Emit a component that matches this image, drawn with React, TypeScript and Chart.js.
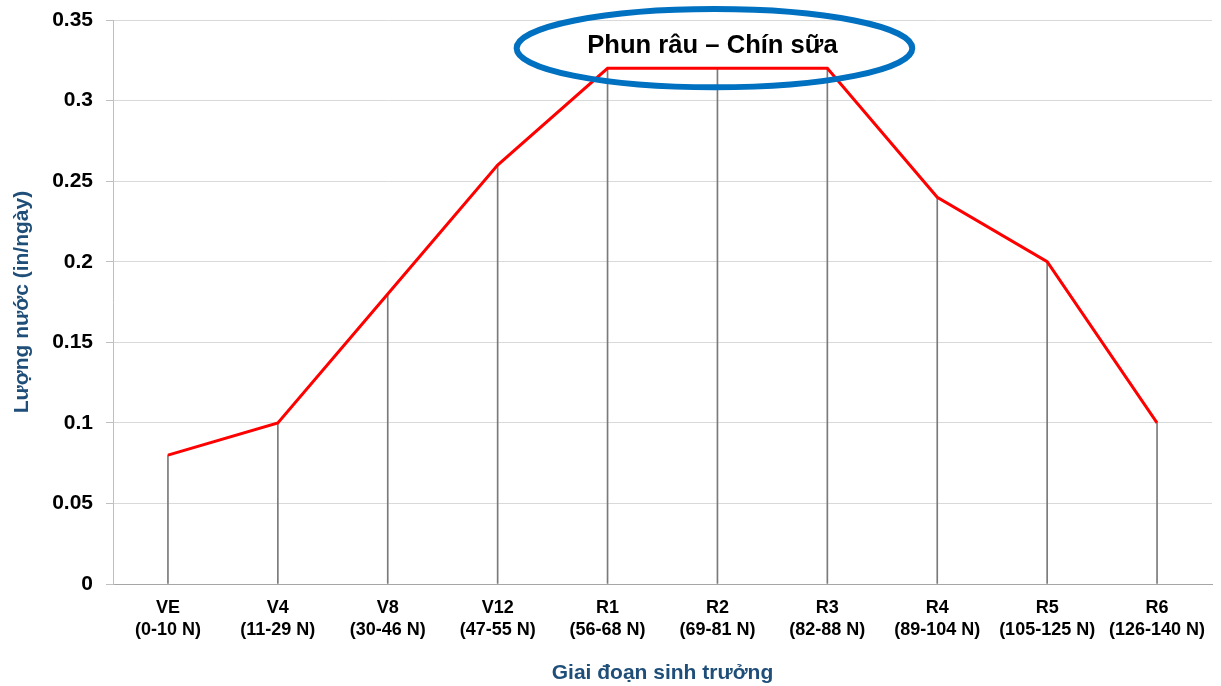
import React, { useEffect, useRef } from "react";
import { Chart, registerables } from "chart.js";

Chart.register(...registerables);

const STAGES = ["VE", "V4", "V8", "V12", "R1", "R2", "R3", "R4", "R5", "R6"];
const DAYS = [
  "(0-10 N)",
  "(11-29 N)",
  "(30-46 N)",
  "(47-55 N)",
  "(56-68 N)",
  "(69-81 N)",
  "(82-88 N)",
  "(89-104 N)",
  "(105-125 N)",
  "(126-140 N)",
];
const WATER_USE = [0.08, 0.1, 0.18, 0.26, 0.32, 0.32, 0.32, 0.24, 0.2, 0.1];
const Y_MIN = 0;
const Y_MAX = 0.35;
const Y_STEP = 0.05;
const Y_TITLE = "Lượng nước (in/ngày)";
const X_TITLE = "Giai đoạn sinh trưởng";
const NOTE_TEXT = "Phun râu – Chín sữa";
// annotation placement in scale units
const NOTE_FROM = 4; // R1
const NOTE_TO = 6; // R3
const NOTE_Y = 0.3325;

const FONT = "'Liberation Sans', Arial, Helvetica, sans-serif";
const BLUE = "#1F4E79";

const ellipsePlugin = {
  id: "noteEllipse",
  afterDatasetsDraw(chart: any) {
    const xs = chart.scales.x;
    const ys = chart.scales.y;
    const ctx = chart.ctx;
    const x1 = xs.getPixelForValue(NOTE_FROM);
    const x2 = xs.getPixelForValue(NOTE_TO);
    const step = xs.getPixelForValue(1) - xs.getPixelForValue(0);
    const cx = (x1 + x2) / 2 - 3;
    const cy = ys.getPixelForValue(NOTE_Y);
    const rx = step * 1.8;
    const ry = Math.abs(ys.getPixelForValue(0) - ys.getPixelForValue(0.0243));
    ctx.save();
    ctx.beginPath();
    ctx.ellipse(cx, cy, rx, ry, 0, 0, Math.PI * 2);
    ctx.lineWidth = 6;
    ctx.strokeStyle = "#0070C0";
    ctx.stroke();
    ctx.fillStyle = "#000000";
    ctx.font = `bold 25.6px ${FONT}`;
    ctx.textAlign = "center";
    ctx.textBaseline = "middle";
    ctx.fillText(NOTE_TEXT, cx - 2, cy - 2);
    ctx.restore();
  },
};

export default function App() {
  const ref = useRef<HTMLCanvasElement | null>(null);

  useEffect(() => {
    if (!ref.current) return;
    const chart = new Chart(ref.current, {
      type: "bar",
      data: {
        labels: STAGES.map((s, i) => [s, DAYS[i]]),
        datasets: [
          {
            type: "line",
            data: WATER_USE,
            borderColor: "#FF0000",
            borderWidth: 3,
            pointRadius: 0,
            tension: 0,
            order: 1,
          } as any,
          {
            type: "bar",
            data: WATER_USE,
            backgroundColor: "#7a7a7a",
            barThickness: 1,
            order: 2,
          } as any,
        ],
      },
      options: {
        responsive: false,
        animation: false,
        layout: { padding: { top: 20, right: 9, left: 0, bottom: 0 } },
        plugins: {
          legend: { display: false },
          tooltip: { enabled: false },
        },
        scales: {
          x: {
            grid: { display: false },
            border: { display: true, color: "#a6a6a6", width: 1 },
            ticks: {
              color: "#000000",
              padding: 6,
              maxRotation: 0,
              autoSkip: false,
              font: { family: FONT, size: 18, weight: "bold", lineHeight: 1.17 },
            },
            title: {
              display: true,
              text: X_TITLE,
              color: BLUE,
              font: { family: FONT, size: 21, weight: "bold", lineHeight: 1.2 },
              padding: { top: 0, bottom: 0 },
            },
            afterFit(scale: any) {
              scale.height = 102;
              scale.paddingLeft = 0;
              scale.paddingRight = 0;
            },
          },
          y: {
            min: Y_MIN,
            max: Y_MAX,
            ticks: {
              stepSize: Y_STEP,
              color: "#000000",
              padding: 13,
              font: { family: FONT, size: 21, weight: "bold" },
              callback: (v: any) => String(Math.round(Number(v) * 100) / 100),
            },
            grid: {
              color: "#d9d9d9",
              tickColor: "#bfbfbf",
              tickLength: 7,
              lineWidth: 1,
            },
            border: { display: true, color: "#bfbfbf", width: 1 },
            title: {
              display: true,
              text: Y_TITLE,
              color: BLUE,
              font: { family: FONT, size: 21, weight: "bold", lineHeight: 1.2 },
              padding: { top: 10, bottom: 0 },
            },
            afterFit(scale: any) {
              scale.width = 113;
              scale.paddingTop = 0;
              scale.paddingBottom = 0;
            },
          },
        },
      },
      plugins: [ellipsePlugin],
    });
    return () => chart.destroy();
  }, []);

  return (
    <div style={{ position: "fixed", left: 0, top: 0, width: 1221, height: 686, background: "#fff" }}>
      <canvas ref={ref} width={1221} height={686} />
    </div>
  );
}
